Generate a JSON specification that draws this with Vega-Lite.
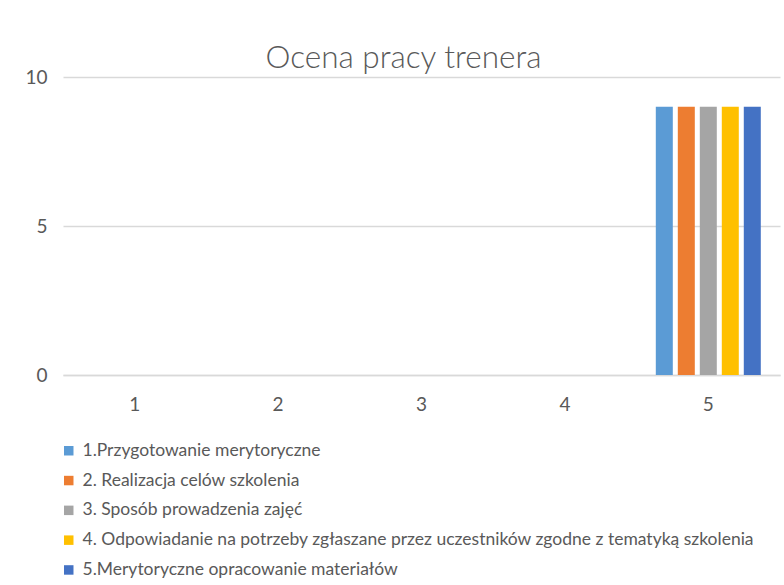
{
  "$schema": "https://vega.github.io/schema/vega-lite/v6.json",
  "width": 717,
  "height": 298,
  "padding": {"left": 63, "top": 77, "right": 4, "bottom": 210},
  "autosize": {"type": "none"},
  "background": "white",
  "title": {
    "text": "Ocena pracy trenera",
    "anchor": "middle",
    "frame": "group",
    "dx": -18,
    "offset": -6,
    "font": "Lato",
    "fontSize": 31.5,
    "fontWeight": 300,
    "color": "#595959"
  },
  "config": {
    "view": {"stroke": null},
    "font": "Lato"
  },
  "data": {
    "values": [
      {"kat": "1", "seria": "1.Przygotowanie merytoryczne", "wartosc": 0},
      {"kat": "1", "seria": "2. Realizacja celów szkolenia", "wartosc": 0},
      {"kat": "1", "seria": "3. Sposób prowadzenia zajęć", "wartosc": 0},
      {"kat": "1", "seria": "4. Odpowiadanie na potrzeby zgłaszane przez uczestników zgodne z tematyką szkolenia", "wartosc": 0},
      {"kat": "1", "seria": "5.Merytoryczne opracowanie materiałów", "wartosc": 0},
      {"kat": "2", "seria": "1.Przygotowanie merytoryczne", "wartosc": 0},
      {"kat": "2", "seria": "2. Realizacja celów szkolenia", "wartosc": 0},
      {"kat": "2", "seria": "3. Sposób prowadzenia zajęć", "wartosc": 0},
      {"kat": "2", "seria": "4. Odpowiadanie na potrzeby zgłaszane przez uczestników zgodne z tematyką szkolenia", "wartosc": 0},
      {"kat": "2", "seria": "5.Merytoryczne opracowanie materiałów", "wartosc": 0},
      {"kat": "3", "seria": "1.Przygotowanie merytoryczne", "wartosc": 0},
      {"kat": "3", "seria": "2. Realizacja celów szkolenia", "wartosc": 0},
      {"kat": "3", "seria": "3. Sposób prowadzenia zajęć", "wartosc": 0},
      {"kat": "3", "seria": "4. Odpowiadanie na potrzeby zgłaszane przez uczestników zgodne z tematyką szkolenia", "wartosc": 0},
      {"kat": "3", "seria": "5.Merytoryczne opracowanie materiałów", "wartosc": 0},
      {"kat": "4", "seria": "1.Przygotowanie merytoryczne", "wartosc": 0},
      {"kat": "4", "seria": "2. Realizacja celów szkolenia", "wartosc": 0},
      {"kat": "4", "seria": "3. Sposób prowadzenia zajęć", "wartosc": 0},
      {"kat": "4", "seria": "4. Odpowiadanie na potrzeby zgłaszane przez uczestników zgodne z tematyką szkolenia", "wartosc": 0},
      {"kat": "4", "seria": "5.Merytoryczne opracowanie materiałów", "wartosc": 0},
      {"kat": "5", "seria": "1.Przygotowanie merytoryczne", "wartosc": 9},
      {"kat": "5", "seria": "2. Realizacja celów szkolenia", "wartosc": 9},
      {"kat": "5", "seria": "3. Sposób prowadzenia zajęć", "wartosc": 9},
      {"kat": "5", "seria": "4. Odpowiadanie na potrzeby zgłaszane przez uczestników zgodne z tematyką szkolenia", "wartosc": 9},
      {"kat": "5", "seria": "5.Merytoryczne opracowanie materiałów", "wartosc": 9}
    ]
  },
  "mark": {"type": "bar"},
  "encoding": {
    "x": {
      "field": "kat",
      "type": "nominal",
      "title": null,
      "scale": {"paddingInner": 0, "paddingOuter": 0},
      "axis": {
        "labelAngle": 0,
        "labelFontSize": 19,
        "labelColor": "#595959",
        "labelPadding": 20,
        "ticks": false,
        "domainColor": "#d9d9d9",
        "domainWidth": 1.5,
        "grid": false
      }
    },
    "xOffset": {
      "field": "seria",
      "type": "nominal",
      "scale": {"paddingInner": 0.227, "paddingOuter": 0.873}
    },
    "y": {
      "field": "wartosc",
      "type": "quantitative",
      "title": null,
      "scale": {"domain": [0, 10], "nice": false},
      "axis": {
        "values": [0, 5, 10],
        "labelFontSize": 19,
        "labelColor": "#595959",
        "labelPadding": 16,
        "ticks": false,
        "domain": false,
        "gridColor": "#d9d9d9",
        "gridWidth": 1.5
      }
    },
    "color": {
      "field": "seria",
      "type": "nominal",
      "title": null,
      "scale": {
        "domain": [
          "1.Przygotowanie merytoryczne",
          "2. Realizacja celów szkolenia",
          "3. Sposób prowadzenia zajęć",
          "4. Odpowiadanie na potrzeby zgłaszane przez uczestników zgodne z tematyką szkolenia",
          "5.Merytoryczne opracowanie materiałów"
        ],
        "range": ["#5B9BD5", "#ED7D31", "#A5A5A5", "#FFC000", "#4472C4"]
      },
      "legend": {
        "orient": "none",
        "legendX": -3,
        "legendY": 365,
        "direction": "vertical",
        "padding": 0,
        "symbolType": "square",
        "symbolSize": 90,
        "symbolStrokeWidth": 0,
        "labelFontSize": 17.5,
        "labelColor": "#595959",
        "labelLimit": 800,
        "labelOffset": 5,
        "rowPadding": 10.8
      }
    }
  }
}
